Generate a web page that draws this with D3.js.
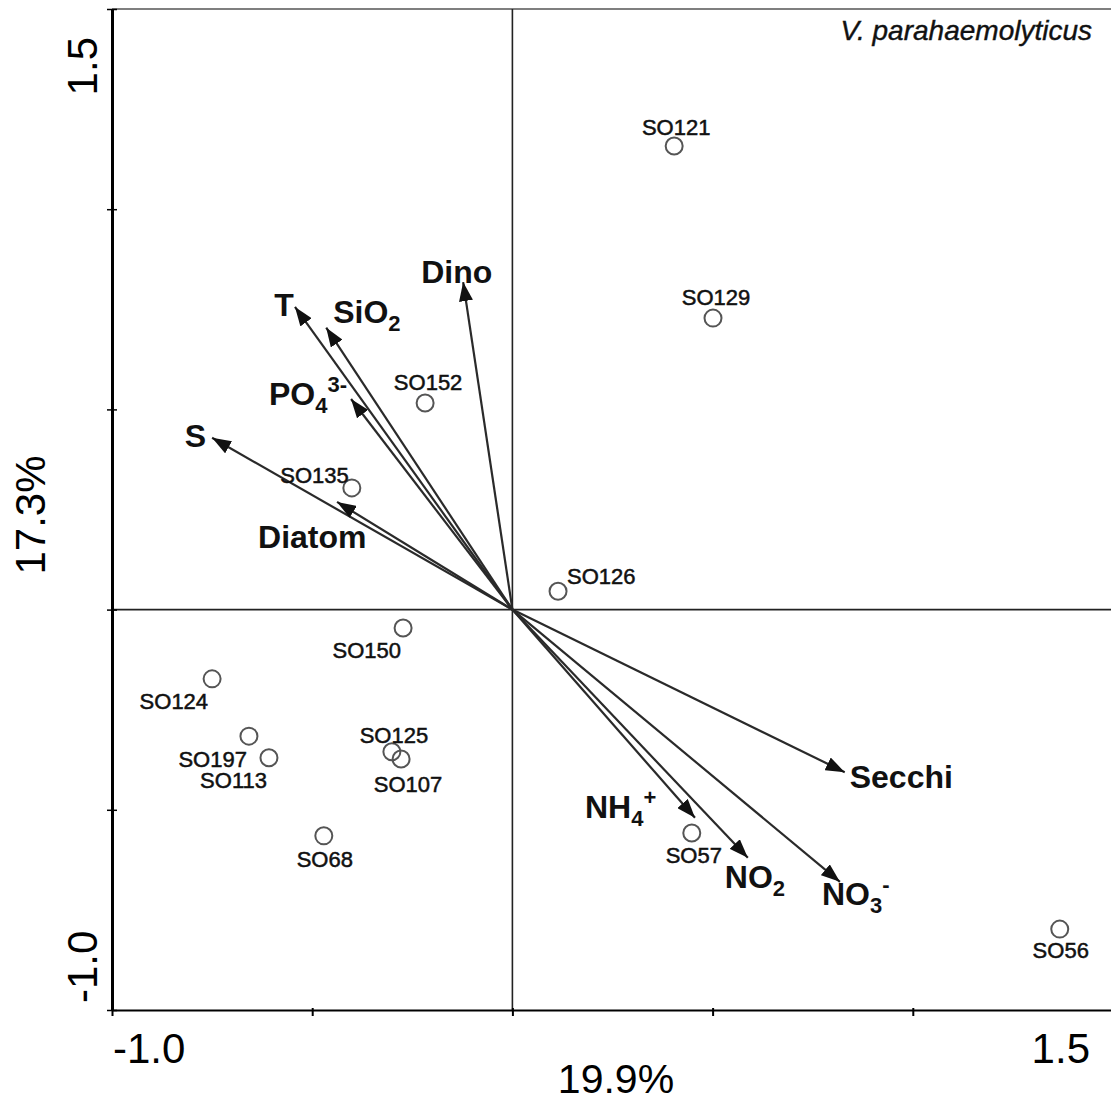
<!DOCTYPE html>
<html>
<head>
<meta charset="utf-8">
<script src="https://cdn.jsdelivr.net/npm/d3@7"></script>
<style>
  body { margin: 0; background: #fff; }
  svg { display: block; font-family: "Liberation Sans", Arial, sans-serif; }
</style>
</head>
<body>
<div id="chart"></div>
<script>
// site scores (axis 1, axis 2)
const sites = ["SO121", "SO129", "SO152", "SO135", "SO126", "SO150", "SO124",
               "SO197", "SO113", "SO125", "SO107", "SO68", "SO57", "SO56"];
const siteX = [0.404, 0.501, -0.218, -0.401, 0.114, -0.273, -0.750,
               -0.658, -0.608, -0.301, -0.278, -0.471, 0.448, 1.367];
const siteY = [1.158, 0.728, 0.516, 0.304, 0.046, -0.046, -0.173,
               -0.316, -0.370, -0.355, -0.373, -0.565, -0.558, -0.798];

// environmental vectors (arrow tips)
const vectors = ["T", "SiO2", "PO4", "S", "Diatom", "Dino", "Secchi", "NH4", "NO2", "NO3"];
const vecX = [-0.543, -0.465, -0.403, -0.750, -0.438, -0.123, 0.830, 0.456, 0.588, 0.818];
const vecY = [0.756, 0.704, 0.526, 0.429, 0.269, 0.818, -0.406, -0.520, -0.620, -0.680];
// label pieces: [text, "" | "sub" | "sup"]
const vecLabels = {
  T: [["T", ""]],
  SiO2: [["SiO", ""], ["2", "sub"]],
  PO4: [["PO", ""], ["4", "sub"], ["3-", "sup"]],
  S: [["S", ""]],
  Diatom: [["Diatom", ""]],
  Dino: [["Dino", ""]],
  Secchi: [["Secchi", ""]],
  NH4: [["NH", ""], ["4", "sub"], ["+", "sup"]],
  NO2: [["NO", ""], ["2", "sub"]],
  NO3: [["NO", ""], ["3", "sub"], ["-", "sup"]]
};

const axisTicks = [-1.0, -0.5, 0, 0.5, 1.0, 1.5];
const endLabels = ["-1.0", "1.5"];
const xTitle = "19.9%";
const yTitle = "17.3%";
const title = "V. parahaemolyticus";

// label placement (pixels, relative to the mark)
const siteLabelPos = {
  SO121: ["middle", 2, -11], SO129: ["middle", 3, -13], SO152: ["middle", 3, -13],
  SO135: ["end", -3, -5], SO126: ["start", 9, -7], SO150: ["end", -2, 30],
  SO124: ["end", -4, 30], SO197: ["end", -2, 31], SO113: ["end", -2, 30],
  SO125: ["middle", 2, -9], SO107: ["middle", 7, 33], SO68: ["middle", 1, 31],
  SO57: ["middle", 2, 30], SO56: ["middle", 1, 29]
};
const vecLabelPos = {
  T: ["middle", -11, 9], SiO2: ["start", 7, -5], PO4: ["end", -4, 6],
  S: ["end", -6, 9], Diatom: ["start", -79, 46], Dino: ["start", -42, 1],
  Secchi: ["start", 5, 16], NH4: ["start", -110, 0], NO2: ["start", -23, 30],
  NO3: ["start", -18, 23]
};

const W = 1111, H = 1102;
const svg = d3.select("#chart").append("svg").attr("width", W).attr("height", H);

const x = d3.scaleLinear().domain([-1, 1.5]).range([112, 1113]);
const y = d3.scaleLinear().domain([-1, 1.5]).range([1010, 9]);

// top border
svg.append("line")
  .attr("x1", x(-1)).attr("x2", x(1.5)).attr("y1", y(1.5)).attr("y2", y(1.5))
  .attr("stroke", "#555").attr("stroke-width", 1.5);

// origin cross
svg.append("line")
  .attr("x1", x(0)).attr("x2", x(0)).attr("y1", y(1.5)).attr("y2", y(-1))
  .attr("stroke", "#222").attr("stroke-width", 1.6);
svg.append("line")
  .attr("x1", x(-1)).attr("x2", x(1.5)).attr("y1", y(0)).attr("y2", y(0))
  .attr("stroke", "#222").attr("stroke-width", 1.6);

// axes
const yAxis = svg.append("g")
  .attr("transform", `translate(${x(-1)},0)`)
  .call(d3.axisLeft(y).tickValues(axisTicks).tickFormat("").tickSize(5).tickSizeOuter(0));
yAxis.select(".domain").attr("stroke", "#000").attr("stroke-width", 3);
yAxis.selectAll(".tick line").attr("x2", -5).attr("x1", 5).attr("stroke-width", 1.5);

const xAxis = svg.append("g")
  .attr("transform", `translate(0,${y(-1)})`)
  .call(d3.axisBottom(x).tickValues(axisTicks).tickFormat("").tickSize(6).tickSizeOuter(0));
xAxis.select(".domain").attr("stroke", "#000").attr("stroke-width", 2);
xAxis.selectAll(".tick line").attr("y1", -2).attr("stroke-width", 2);

// end tick labels
const tickFont = 42;
svg.append("text").attr("x", x(-1) + 1).attr("y", 1063)
  .attr("font-size", tickFont).attr("text-anchor", "start").text(endLabels[0]);
svg.append("text").attr("x", 1090).attr("y", 1063)
  .attr("font-size", tickFont).attr("text-anchor", "end").text(endLabels[1]);
svg.append("text").attr("transform", "translate(97,37) rotate(-90)")
  .attr("font-size", tickFont).attr("text-anchor", "end").text(endLabels[1]);
svg.append("text").attr("transform", "translate(97,1003) rotate(-90)")
  .attr("font-size", tickFont).attr("text-anchor", "start").text(endLabels[0]);

// axis titles
svg.append("text").attr("x", 616).attr("y", 1093)
  .attr("font-size", 41).attr("text-anchor", "middle").text(xTitle);
svg.append("text").attr("transform", "translate(45,515) rotate(-90)")
  .attr("font-size", 42).attr("text-anchor", "middle").text(yTitle);

svg.append("text").attr("x", 1092).attr("y", 40)
  .attr("font-size", 28).attr("font-style", "italic").attr("text-anchor", "end")
  .attr("fill", "#111").attr("stroke", "#111").attr("stroke-width", 0.4)
  .text(title);

// arrow head
svg.append("defs").append("marker")
  .attr("id", "head")
  .attr("markerUnits", "userSpaceOnUse")
  .attr("viewBox", "0 -7 19 14")
  .attr("refX", 19).attr("refY", 0)
  .attr("markerWidth", 19).attr("markerHeight", 14)
  .attr("orient", "auto")
  .append("path").attr("d", "M0,-7L19,0L0,7Z").attr("fill", "#111");

const vecData = vectors.map((v, i) => ({ name: v, x: vecX[i], y: vecY[i] }));

svg.append("g").selectAll("line")
  .data(vecData)
  .join("line")
  .attr("x1", x(0)).attr("y1", y(0))
  .attr("x2", d => x(d.x)).attr("y2", d => y(d.y))
  .attr("stroke", "#2a2a2a").attr("stroke-width", 2.2)
  .attr("marker-end", "url(#head)");

const vecText = svg.append("g").selectAll("text")
  .data(vecData)
  .join("text")
  .attr("x", d => x(d.x) + vecLabelPos[d.name][1])
  .attr("y", d => y(d.y) + vecLabelPos[d.name][2])
  .attr("text-anchor", d => vecLabelPos[d.name][0])
  .attr("font-size", 32).attr("font-weight", "bold").attr("fill", "#111");

vecText.each(function(d) {
  const t = d3.select(this);
  let shift = 0;
  vecLabels[d.name].forEach(([s, kind]) => {
    const target = kind === "sub" ? 8 : kind === "sup" ? -13 : 0;
    t.append("tspan")
      .attr("dy", target - shift)
      .attr("font-size", kind ? 22 : 32)
      .text(s);
    shift = target;
  });
});

// sites
const siteData = sites.map((s, i) => ({ name: s, x: siteX[i], y: siteY[i] }));

svg.append("g").selectAll("circle")
  .data(siteData)
  .join("circle")
  .attr("cx", d => x(d.x)).attr("cy", d => y(d.y))
  .attr("r", 8.5)
  .attr("fill", "none").attr("stroke", "#555").attr("stroke-width", 2);

svg.append("g").selectAll("text")
  .data(siteData)
  .join("text")
  .attr("x", d => x(d.x) + siteLabelPos[d.name][1])
  .attr("y", d => y(d.y) + siteLabelPos[d.name][2])
  .attr("text-anchor", d => siteLabelPos[d.name][0])
  .attr("font-size", 22).attr("fill", "#111")
  .attr("stroke", "#111").attr("stroke-width", 0.5)
  .text(d => d.name);
</script>
</body>
</html>
